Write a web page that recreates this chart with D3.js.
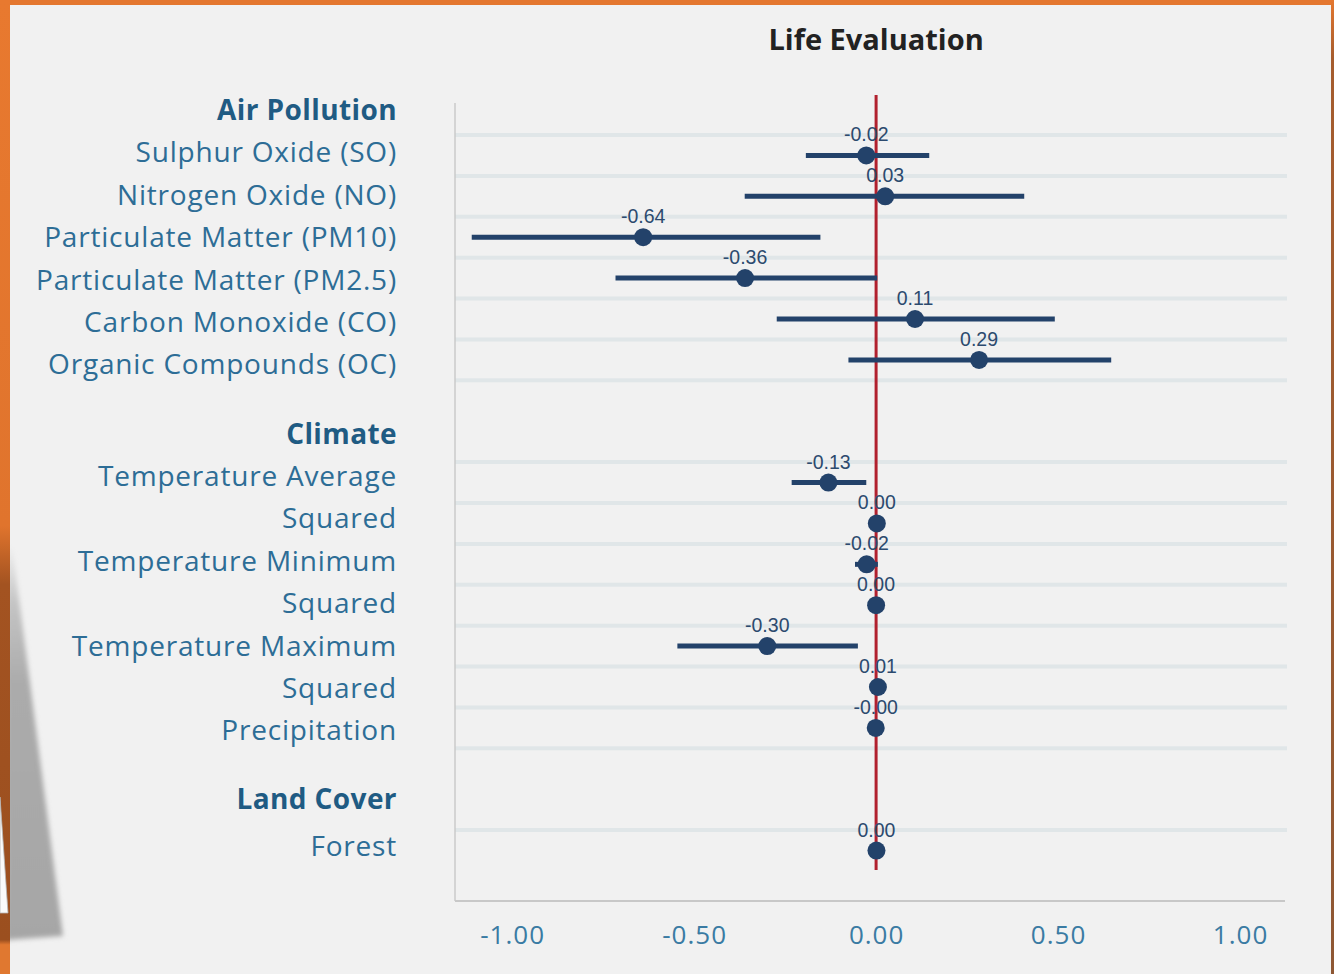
<!DOCTYPE html>
<html><head><meta charset="utf-8">
<script src="https://cdn.jsdelivr.net/npm/d3@7"></script>
<style>html,body{margin:0;padding:0;background:#f1f1f1;} svg{display:block;}</style>
</head><body><svg id="c" width="1334" height="974"></svg>
<script>
// ---------- data ----------
const title = "Life Evaluation";
const groups = ["Air Pollution", "Climate", "Land Cover"];
const variables = [
  "Sulphur Oxide (SO)", "Nitrogen Oxide (NO)", "Particulate Matter (PM10)",
  "Particulate Matter (PM2.5)", "Carbon Monoxide (CO)", "Organic Compounds (OC)",
  "Temperature Average", "Squared", "Temperature Minimum", "Squared",
  "Temperature Maximum", "Squared", "Precipitation",
  "Forest"
];
const variableGroup = [
  "Air Pollution", "Air Pollution", "Air Pollution", "Air Pollution", "Air Pollution", "Air Pollution",
  "Climate", "Climate", "Climate", "Climate", "Climate", "Climate", "Climate",
  "Land Cover"
];
const estimates = [-0.027, 0.025, -0.64, -0.36, 0.107, 0.283, -0.131, 0.002, -0.026, 0.0, -0.299, 0.005, -0.001, 0.001];
const lowerCI   = [-0.193, -0.361, -1.111, -0.716, -0.273, -0.076, -0.232, -0.002, -0.058, -0.003, -0.546, 0.001, -0.005, -0.003];
const upperCI   = [0.146, 0.407, -0.153, 0.003, 0.491, 0.646, -0.027, 0.006, 0.005, 0.003, -0.050, 0.009, 0.003, 0.005];
const valueLabels = ["-0.02", "0.03", "-0.64", "-0.36", "0.11", "0.29", "-0.13", "0.00", "-0.02", "0.00", "-0.30", "0.01", "-0.00", "0.00"];
const xTicks = [-1, -0.5, 0, 0.5, 1];
const xTickLabels = ["-1.00", "-0.50", "0.00", "0.50", "1.00"];

// ---------- layout ----------
const W = 1334, H = 974;
const plot = {left: 455, right: 1287, top: 135, bottom: 871, axisY: 901};
const svg = d3.select("#c");
const defs = svg.append("defs");

// frame
svg.append("rect").attr("width", W).attr("height", H).attr("fill", "#e4772f");
const lg = defs.append("linearGradient").attr("id", "leftStrip").attr("x1", 0).attr("y1", 0).attr("x2", 0).attr("y2", 1);
[[0, "#e8792f"], [0.54, "#e0742d"], [0.6, "#a35321"], [0.965, "#9b4f1f"], [0.97, "#e07830"], [1, "#e07830"]]
  .forEach(([o, c]) => lg.append("stop").attr("offset", o).attr("stop-color", c));
svg.append("rect").attr("x", 0).attr("y", 0).attr("width", 10).attr("height", H).attr("fill", "url(#leftStrip)");
const rg = defs.append("linearGradient").attr("id", "rightStrip").attr("x1", 0).attr("y1", 0).attr("x2", 0).attr("y2", 1);
[[0, "#e4772f"], [0.06, "#a55c2e"], [1, "#8e5733"]].forEach(([o, c]) => rg.append("stop").attr("offset", o).attr("stop-color", c));
svg.append("rect").attr("x", 1331).attr("y", 0).attr("width", 3).attr("height", H).attr("fill", "url(#rightStrip)");
svg.append("rect").attr("x", 10).attr("y", 5).attr("width", 1321).attr("height", H - 5).attr("fill", "#f1f1f1");

// paper shadow at bottom-left
defs.append("filter").attr("id", "blur").append("feGaussianBlur").attr("stdDeviation", 2.5);
defs.append("clipPath").attr("id", "panelClip").append("rect").attr("x", 10).attr("y", 0).attr("width", 200).attr("height", H);
const sg = defs.append("linearGradient").attr("id", "shadowGrad").attr("x1", 0).attr("y1", 0).attr("x2", 0).attr("y2", 1);
[[0, "#f1f1f1"], [0.15, "#c4c4c4"], [0.35, "#ababab"], [1, "#a6a6a6"]].forEach(([o, c]) => sg.append("stop").attr("offset", o).attr("stop-color", c));
svg.append("g").attr("clip-path", "url(#panelClip)")
  .append("path").attr("d", "M6,545 L12,545 L63,936 L6,940 Z").attr("fill", "url(#shadowGrad)").attr("filter", "url(#blur)");
svg.append("path").attr("d", "M0,797 L8,913 L0,913 Z").attr("fill", "#fafafa").attr("stroke", "#b5b5b5").attr("stroke-width", 0.8);

// scales
const x = d3.scaleLinear().domain([-1.157, 1.129]).range([plot.left, plot.right]);
const rowKeys = [];
groups.forEach((g, gi) => {
  if (gi > 0) { rowKeys.push("gap" + gi + "a"); rowKeys.push("gap" + gi + "b"); }
  variables.forEach((v, i) => { if (variableGroup[i] === g) rowKeys.push("r" + i); });
});
const y = d3.scaleBand().domain(rowKeys).range([plot.top, plot.bottom]);
const yc = i => y("r" + i) + y.bandwidth() / 2;

// gridlines
const gridYs = [];
groups.forEach((g, gi) => {
  const idx = variables.map((v, i) => i).filter(i => variableGroup[i] === g);
  idx.forEach(i => gridYs.push(y("r" + i)));
  if (gi < groups.length - 1) gridYs.push(y("r" + idx[idx.length - 1]) + y.bandwidth());
});
svg.append("g").selectAll("line").data(gridYs).join("line")
  .attr("x1", plot.left).attr("x2", plot.right).attr("y1", d => d).attr("y2", d => d)
  .attr("stroke", "#e0e6e8").attr("stroke-width", 4);

// left axis line
svg.append("line").attr("x1", plot.left).attr("x2", plot.left).attr("y1", 103).attr("y2", plot.axisY)
  .attr("stroke", "#cacaca").attr("stroke-width", 1.5);

// bottom axis
const ax = svg.append("g").attr("transform", `translate(0,${plot.axisY})`)
  .call(d3.axisBottom(x).tickValues(xTicks).tickSize(0).tickFormat((d, i) => xTickLabels[i]));
ax.select(".domain").attr("stroke", "#c8c8c8").attr("stroke-width", 2).attr("d", `M${plot.left},0H${plot.right - 2}`);
ax.selectAll("text").attr("y", 43).attr("dy", null)
  .attr("fill", "#3a7ba3").attr("font-family", "'Open Sans', sans-serif").attr("font-size", 26)
  .attr("letter-spacing", "1px");

// zero line
svg.append("line").attr("x1", x(0)).attr("x2", x(0)).attr("y1", 95).attr("y2", 870)
  .attr("stroke", "#b1202e").attr("stroke-width", 3);

// CI bars
const idxAll = variables.map((v, i) => i);
svg.append("g").selectAll("line").data(idxAll).join("line")
  .attr("x1", i => x(lowerCI[i])).attr("x2", i => x(upperCI[i]))
  .attr("y1", i => yc(i)).attr("y2", i => yc(i))
  .attr("stroke", "#23426a").attr("stroke-width", 5);

// dots
svg.append("g").selectAll("circle").data(idxAll).join("circle")
  .attr("cx", i => x(estimates[i])).attr("cy", i => yc(i)).attr("r", 9)
  .attr("fill", "#23426a");

// value labels
svg.append("g").selectAll("text").data(idxAll).join("text")
  .attr("x", i => x(estimates[i])).attr("y", i => yc(i) - 14)
  .attr("text-anchor", "middle").attr("font-family", "'Liberation Sans', Arial, sans-serif")
  .attr("font-size", 19.5).attr("fill", "#2c4a6e").text(i => valueLabels[i]);

// left labels (group headers + variables)
const labelItems = [];
let slot = 0;
groups.forEach((g, gi) => {
  if (gi > 0) slot += 1.63;
  labelItems.push({text: g, header: true, slot: slot});
  variables.forEach((v, i) => { if (variableGroup[i] === g) { slot += (gi === groups.length - 1 ? 1.09 : 1); labelItems.push({text: v, header: false, slot: slot}); } });
});
const slotY = d3.scaleLinear().domain([0, 1]).range([110, 152.4]);
svg.append("g").selectAll("text").data(labelItems).join("text")
  .attr("x", 397).attr("y", d => slotY(d.slot) + 10)
  .attr("text-anchor", "end").attr("font-family", "'Open Sans', sans-serif")
  .attr("font-size", 28).attr("font-weight", d => d.header ? 700 : 400)
  .attr("letter-spacing", d => d.header ? "0.4px" : "0.8px")
  .attr("fill", d => d.header ? "#1f5b83" : "#2d6d96").text(d => d.text);

// title
svg.append("text").attr("x", x(0)).attr("y", 50).attr("text-anchor", "middle")
  .attr("font-family", "'Open Sans', sans-serif").attr("font-weight", 700).attr("font-size", 29)
  .attr("fill", "#222222").text(title);
</script></body></html>
